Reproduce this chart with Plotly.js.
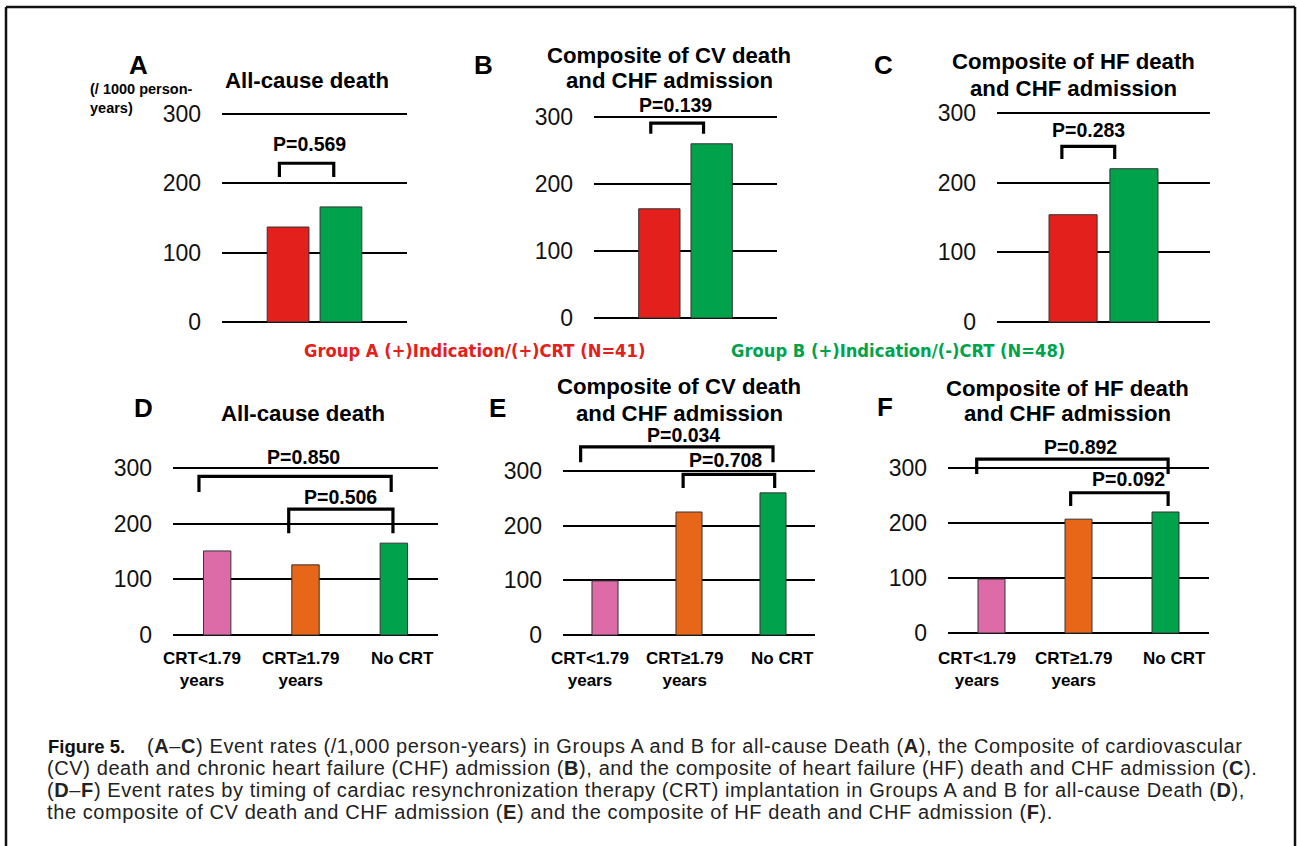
<!DOCTYPE html>
<html><head><meta charset="utf-8">
<script src="https://cdn.plot.ly/plotly-3.0.1.min.js"></script>
<style>html,body{margin:0;padding:0;background:#fff}#chart{width:1297px;height:846px}</style>
</head><body><div id="chart"></div>
<script>
// ---------------- DATA ----------------
const groupCats = ["Group A", "Group B"];
const groupColors = ["#E3201B", "#00A34B"];
const allCauseAB = [137, 166];
const cvCompositeAB = [163, 260];
const hfCompositeAB = [154, 220];

const timingCats = ["CRT<1.79 years", "CRT≥1.79 years", "No CRT"];
const timingLabels = ["CRT<1.79<br>years", "CRT≥1.79<br>years", "No CRT"];
const timingColors = ["#DD6BA8", "#E86618", "#00A34B"];
const allCauseTiming = [151, 126, 165];
const cvCompositeTiming = [99, 225, 260];
const hfCompositeTiming = [98, 207, 220];

const yTicks = [0, 100, 200, 300];
const panelLetters = ["A", "B", "C", "D", "E", "F"];
const panelTitles = [
  ["All-cause death"],
  ["Composite of CV death", "and CHF admission"],
  ["Composite of HF death", "and CHF admission"],
  ["All-cause death"],
  ["Composite of CV death", "and CHF admission"],
  ["Composite of HF death", "and CHF admission"]
];
const pLabelsAB = ["P=0.569", "P=0.139", "P=0.283"];
const pLabelsTiming = [["P=0.850", "P=0.506"], ["P=0.034", "P=0.708"], ["P=0.892", "P=0.092"]];
const legendA = "Group A (+)Indication/(+)CRT (N=41)";
const legendB = "Group B (+)Indication/(-)CRT (N=48)";
const yUnit = "(/ 1000 person-<br>years)";
const captionHead = "Figure 5.";
const captionLines = [
  "(<b>A</b>–<b>C</b>) Event rates (/1,000 person-years) in Groups A and B for all-cause Death (<b>A</b>), the Composite of cardiovascular",
  "(CV) death and chronic heart failure (CHF) admission (<b>B</b>), and the composite of heart failure (HF) death and CHF admission (<b>C</b>).",
  "(<b>D</b>–<b>F</b>) Event rates by timing of cardiac resynchronization therapy (CRT) implantation in Groups A and B for all-cause Death (<b>D</b>),",
  "the composite of CV death and CHF admission (<b>E</b>) and the composite of HF death and CHF admission (<b>F</b>)."
];

// ---------------- LAYOUT ----------------
const W = 1297, H = 846;
const FONT = "Liberation Sans, Arial, Helvetica, sans-serif";
const NARROW = "Liberation Sans Narrow, DejaVu Sans Condensed, Arial Narrow, sans-serif";
const px = x => x / W;
const py = y => 1 - y / H;
const YMIN = -3, YMAX = 385;

const panels = [
  {cats: groupCats, vals: allCauseAB, colors: groupColors, x0: 222, x1: 407, yz: 322, y3: 114, xr: [-1.25, 2.25], bw: 0.79},
  {cats: groupCats, vals: cvCompositeAB, colors: groupColors, x0: 594, x1: 777, yz: 318, y3: 117, xr: [-1.25, 2.25], bw: 0.79},
  {cats: groupCats, vals: hfCompositeAB, colors: groupColors, x0: 997, x1: 1210, yz: 322, y3: 113, xr: [-1.25, 2.25], bw: 0.79},
  {cats: timingCats, vals: allCauseTiming, colors: timingColors, x0: 173, x1: 438, yz: 635, y3: 468, xr: [-0.5, 2.5], bw: 0.31},
  {cats: timingCats, vals: cvCompositeTiming, colors: timingColors, x0: 563, x1: 815, yz: 635, y3: 471, xr: [-0.5, 2.5], bw: 0.31},
  {cats: timingCats, vals: hfCompositeTiming, colors: timingColors, x0: 948, x1: 1209, yz: 633, y3: 468, xr: [-0.5, 2.5], bw: 0.31}
];

// bracket geometry (x in category index units, y in axis units)
const brackets = [
  [{a: -0.164, b: 0.864, top: 229, leg: 209, lx: 0.40, ly: 257, t: pLabelsAB[0]}],
  [{a: -0.164, b: 0.845, top: 291, leg: 275, lx: 0.31, ly: 318, t: pLabelsAB[1]}],
  [{a: -0.184, b: 0.684, top: 252, leg: 234, lx: 0.26, ly: 275, t: pLabelsAB[2]}],
  [{a: -0.206, b: 1.97, top: 285, leg: 257, lx: 0.98, ly: 320, t: pLabelsTiming[0][0]},
   {a: 0.81, b: 1.99, top: 226, leg: 183, lx: 1.40, ly: 248, t: pLabelsTiming[0][1]}],
  [{a: -0.29, b: 2.0, top: 344, leg: 316, lx: 0.93, ly: 366, t: pLabelsTiming[1][0]},
   {a: 0.93, b: 2.02, top: 294, leg: 269, lx: 1.44, ly: 320, t: pLabelsTiming[1][1]}],
  [{a: -0.17, b: 2.03, top: 316, leg: 289, lx: 1.02, ly: 338, t: pLabelsTiming[2][0]},
   {a: 0.91, b: 2.03, top: 255, leg: 231, lx: 1.57, ly: 280, t: pLabelsTiming[2][1]}]
];

const titlePos = [[307, [81]], [669, [55, 80]], [1073, [62, 88]], [303, [413]], [679, [387, 413]], [1067, [388, 414]]];
const letterPos = [[138, 65], [483, 65], [883, 65], [143, 408], [497, 408], [885, 407]];
const catLabelShift = [-15, -5, 9];

const traces = [];
const layout = {
  width: W, height: H,
  margin: {l: 0, r: 0, t: 0, b: 0},
  paper_bgcolor: "#fff", plot_bgcolor: "rgba(0,0,0,0)",
  showlegend: false,
  font: {family: FONT, color: "#111"},
  shapes: [], annotations: []
};

panels.forEach((p, i) => {
  const n = i + 1;
  const xa = "x" + (n === 1 ? "" : n), ya = "y" + (n === 1 ? "" : n);
  const xk = "xaxis" + (n === 1 ? "" : n), yk = "yaxis" + (n === 1 ? "" : n);
  const ppu = (p.yz - p.y3) / 300;
  const yb = p.yz - YMIN * ppu, yt = p.yz - YMAX * ppu;
  traces.push({
    type: "bar", x: p.cats, y: p.vals, xaxis: xa, yaxis: ya, width: p.bw,
    marker: {color: p.colors, line: {color: "#333", width: 1}},
    hoverinfo: "x+y"
  });
  layout[xk] = {
    domain: [px(p.x0), px(p.x1)], anchor: ya, type: "category",
    categoryorder: "array", categoryarray: p.cats, range: p.xr,
    showgrid: false, zeroline: false, showline: false, showticklabels: false, ticks: "", fixedrange: true
  };
  layout[yk] = {
    domain: [py(yb), py(yt)], anchor: xa, range: [YMIN, YMAX],
    tickmode: "array", tickvals: yTicks, ticktext: yTicks.map(String),
    showgrid: true, gridcolor: "#000", gridwidth: 2, zeroline: false, showline: false,
    ticks: "", ticklabelstandoff: 20, tickfont: {size: 23, color: "#111", family: FONT}, fixedrange: true
  };
  brackets[i].forEach(b => {
    layout.shapes.push({
      type: "path", xref: xa, yref: ya,
      path: `M ${b.a},${b.leg} L ${b.a},${b.top} L ${b.b},${b.top} L ${b.b},${b.leg}`,
      line: {color: "#000", width: 3.2}
    });
    layout.annotations.push({
      xref: xa, yref: ya, x: b.lx, y: b.ly, text: "<b>" + b.t + "</b>", showarrow: false,
      xanchor: "center", yanchor: "middle", borderpad: 0, font: {size: 19.5, color: "#000", family: FONT}
    });
  });
  panelTitles[i].forEach((line, k) => {
    layout.annotations.push({
      xref: "paper", yref: "paper", x: px(titlePos[i][0]), y: py(titlePos[i][1][k]),
      text: "<b>" + line + "</b>", showarrow: false, xanchor: "center", yanchor: "middle", borderpad: 0,
      font: {size: 22.2, color: "#000", family: FONT}
    });
  });
  layout.annotations.push({
    xref: "paper", yref: "paper", x: px(letterPos[i][0]), y: py(letterPos[i][1]),
    text: "<b>" + panelLetters[i] + "</b>", showarrow: false, xanchor: "center", yanchor: "middle",
    font: {size: 26, color: "#000", family: FONT}
  });
  if (p.cats === timingCats) {
    p.cats.forEach((c, k) => {
      const twoLine = timingLabels[k].indexOf("<br>") >= 0;
      layout.annotations.push({
        xref: xa, yref: "paper", x: k, y: py(twoLine ? 669 : 658), xshift: catLabelShift[k],
        text: "<b>" + timingLabels[k] + "</b>", showarrow: false, xanchor: "center", yanchor: "middle",
        font: {size: 17, color: "#000", family: FONT}
      });
    });
  }
});

layout.annotations.push({
  xref: "paper", yref: "paper", x: px(88), y: py(98), text: "<b>" + yUnit + "</b>",
  showarrow: false, xanchor: "left", yanchor: "middle", align: "left",
  font: {size: 14.5, color: "#000", family: FONT}
});
layout.annotations.push({
  xref: "paper", yref: "paper", x: px(475), y: py(350), text: "<b>" + legendA + "</b>",
  showarrow: false, xanchor: "center", yanchor: "middle", font: {size: 18.2, color: groupColors[0], family: NARROW}
});
layout.annotations.push({
  xref: "paper", yref: "paper", x: px(898), y: py(350), text: "<b>" + legendB + "</b>",
  showarrow: false, xanchor: "center", yanchor: "middle", font: {size: 18.2, color: groupColors[1], family: NARROW}
});
// caption
const capY = [746, 768, 790, 812];
const capX = 46;
layout.annotations.push({
  xref: "paper", yref: "paper", x: px(capX), y: py(capY[0]), text: "<b>" + captionHead + "</b>",
  showarrow: false, xanchor: "left", yanchor: "middle", font: {size: 18.5, color: "#111", family: FONT}
});
captionLines.forEach((t, k) => {
  layout.annotations.push({
    xref: "paper", yref: "paper", x: px(k === 0 ? 146 : capX), y: py(capY[k]),
    text: "<span style='letter-spacing:0.6px'>" + t + "</span>",
    showarrow: false, xanchor: "left", yanchor: "middle", align: "left", borderpad: 0,
    font: {size: 20, color: "#222", family: FONT}
  });
});
// frame
[[6, 7, 1295, 7], [6, 7, 6, 846], [1295, 7, 1295, 846]].forEach(l => {
  layout.shapes.push({type: "line", xref: "paper", yref: "paper",
    x0: px(l[0]), y0: py(l[1]), x1: px(l[2]), y1: py(l[3]), line: {color: "#111", width: 2.5}});
});

Plotly.newPlot("chart", traces, layout, {displayModeBar: false, staticPlot: true});
</script>
</body></html>
